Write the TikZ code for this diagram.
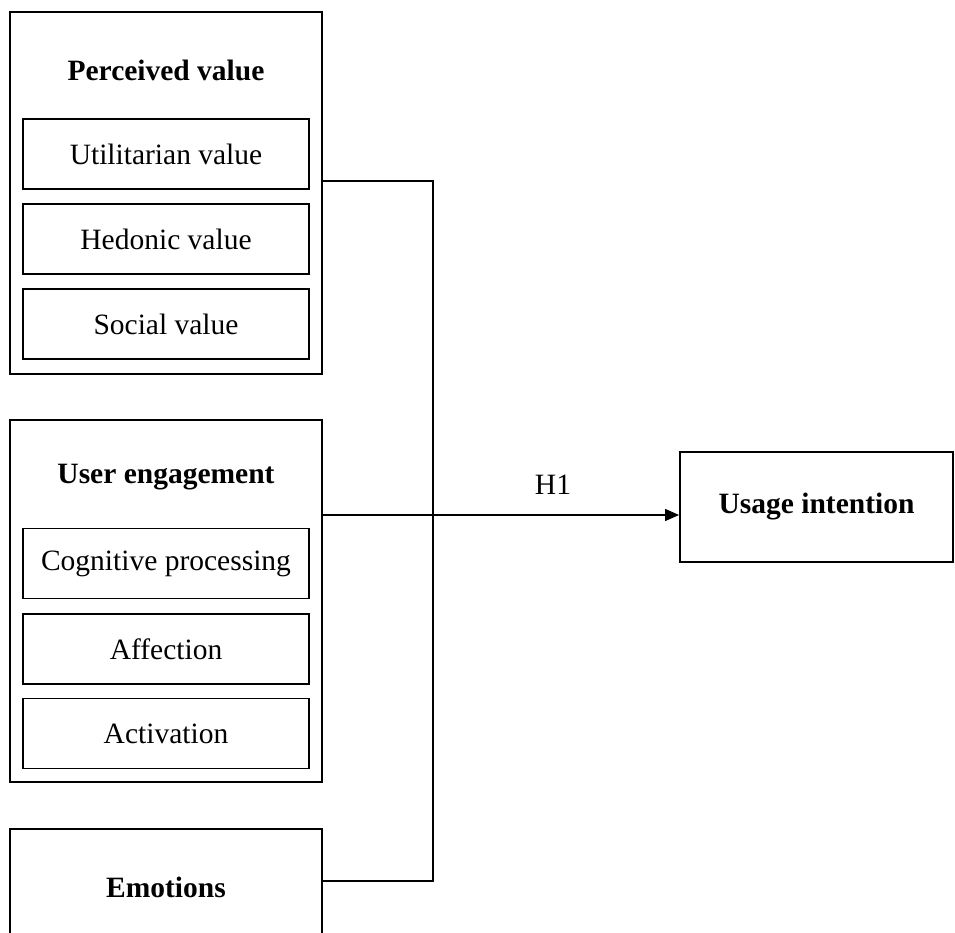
\documentclass[tikz,border=0pt]{standalone}
\usepackage{fontspec}
\setmainfont{Liberation Serif}
\usetikzlibrary{arrows.meta}
\begin{document}
\begin{tikzpicture}[x=1pt,y=-1pt,
  every node/.style={font=\fontsize{29.5}{35}\selectfont, inner sep=0pt},
  outerbox/.style={draw, line width=1.8pt, minimum width=312pt, minimum height=#1},
  innerbox/.style={draw, line width=1.8pt, minimum width=286pt, minimum height=70pt},
  title/.style={font=\fontsize{29.5}{35}\selectfont\bfseries},
  conn/.style={line width=1.2pt}]
\clip (0,0) rectangle (955,933);
\useasboundingbox (0,0) rectangle (955,933);
% Perceived value
\node[outerbox=362pt] (pv) at (166,193) {};
\node[title] (pvt) at (166,70) {Perceived value};
\node[innerbox] (uv) at (166,154) {Utilitarian value};
\node[innerbox] (hv) at (166,239) {Hedonic value};
\node[innerbox] (sv) at (166,324) {Social value};
% User engagement
\node[outerbox=362pt] (ue) at (166,601) {};
\node[title] (uet) at (166,477) {User engagement};
\node[innerbox] (cp) at (166,563.5) {Cognitive processing};
\node[innerbox] (af) at (166,649) {Affection};
\node[innerbox] (ac) at (166,733.5) {Activation};
% Emotions
\node[outerbox=116pt] (emo) at (166,887) {};
\node[title] (emot) at (166,887) {Emotions};
% Usage intention
\node[draw, line width=1.8pt, minimum width=273pt, minimum height=110pt, title] (ui) at (816.5,507) {Usage intention};
% connectors
\coordinate (top) at (433,181);
\coordinate (j) at (433,515);
\coordinate (bot) at (433,881);
\draw[conn] (pv.east |- top) -- (top) -- (bot) -- (emo.east |- bot);
\draw[conn] (ue.east |- j) -- (j);
\draw[conn, -{Triangle[length=14pt,width=12pt]}] (j) -- (ui.west |- j);
\node (h1) at (553,485) {H1};
\end{tikzpicture}
\end{document}
